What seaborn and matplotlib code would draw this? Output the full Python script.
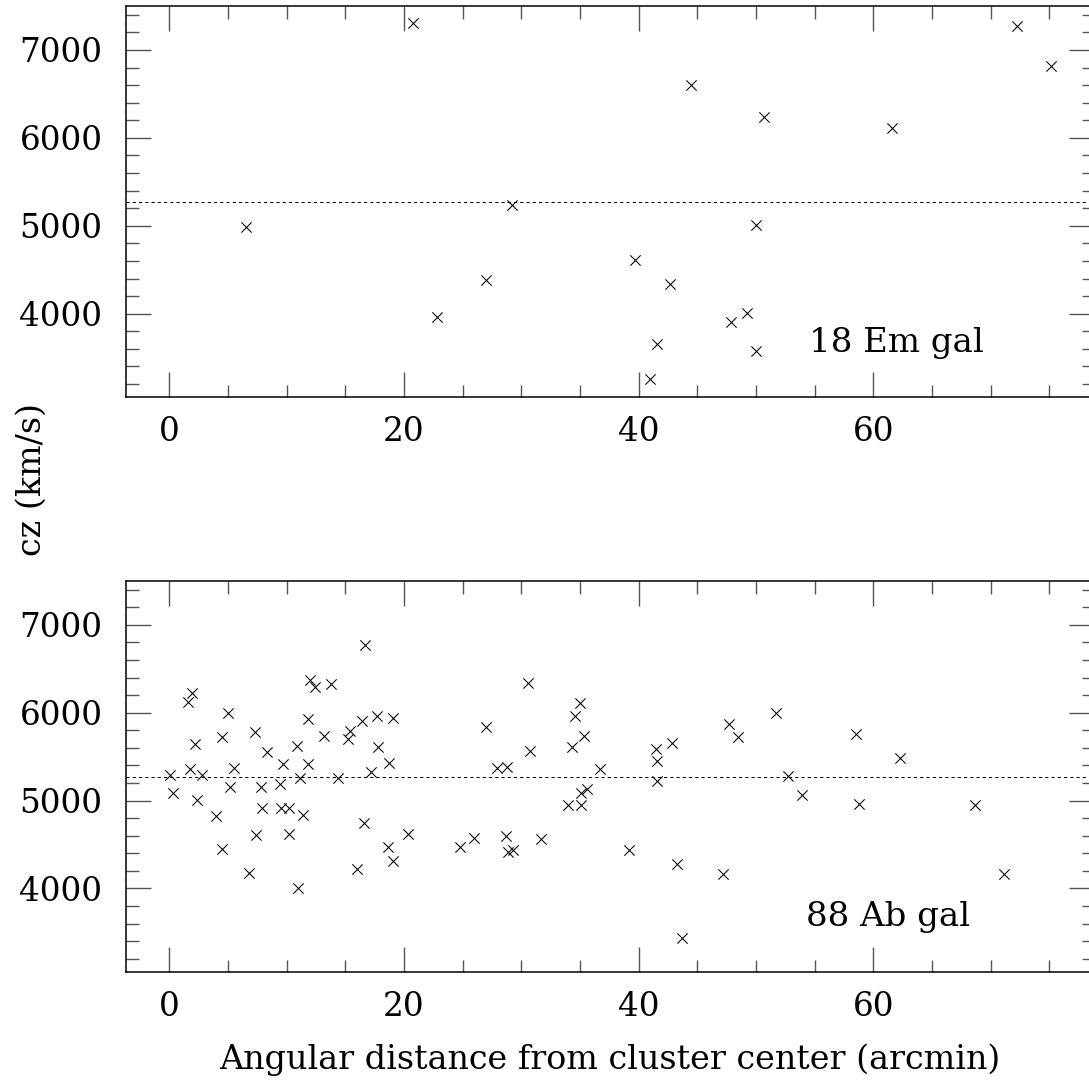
import numpy as np
import pandas as pd
import matplotlib
matplotlib.use("Agg")
import matplotlib.pyplot as plt
from matplotlib.ticker import MultipleLocator
import seaborn as sns

# ---- data ----
em_dist = [20.8, 6.5, 29.2, 27.0, 22.8, 72.2, 75.1, 44.5, 50.7, 61.6,
           50.0, 39.7, 42.7, 49.2, 47.9, 41.6, 50.0, 41.0]
em_cz = [7303, 4992, 5239, 4386, 3962, 7276, 6822, 6602, 6235, 6110,
         5011, 4614, 4337, 4008, 3901, 3656, 3572, 3258]

ab_dist = [0.1, 0.3, 1.6, 1.9, 1.8, 2.2, 2.4, 2.8, 4.0, 4.5,
           4.5, 5.0, 5.5, 5.2, 6.8, 7.3, 7.4, 7.8, 7.9, 8.3,
           9.4, 9.5, 9.7, 10.2, 10.2, 10.9, 11.1, 11.0, 11.4, 11.8,
           11.8, 12.0, 12.4, 13.2, 13.8, 14.4, 15.2, 15.4, 16.0, 16.4,
           16.6, 16.7, 17.2, 17.7, 17.8, 18.6, 18.7, 19.1, 19.1, 20.3,
           24.8, 26.0, 27.0, 27.9, 28.8, 28.7, 28.9, 29.3, 30.6, 30.7,
           31.7, 34.0, 34.3, 34.6, 35.0, 35.1, 35.1, 35.3, 35.6, 36.7,
           39.2, 41.5, 41.6, 41.6, 42.8, 43.3, 43.7, 47.2, 47.7, 48.5,
           51.7, 52.7, 53.9, 58.5, 58.8, 62.3, 68.7, 71.1]
ab_cz = [5289, 5088, 6128, 6230, 5358, 5644, 5006, 5289, 4824, 5720,
         4450, 5992, 5372, 5150, 4178, 5780, 4609, 5156, 4915, 5558,
         5187, 4915, 5422, 4915, 4617, 5621, 5259, 4011, 4836, 5924,
         5422, 6378, 6290, 5731, 6324, 5263, 5697, 5796, 4227, 5901,
         4748, 6766, 5323, 5969, 5610, 4476, 5433, 5943, 4314, 4617,
         4476, 4571, 5837, 5376, 5383, 4601, 4420, 4439, 6343, 5561,
         4567, 4946, 5610, 5961, 6109, 5088, 4946, 5735, 5134, 5361,
         4439, 5584, 5448, 5224, 5655, 4280, 3433, 4163, 5875, 5723,
         5995, 5278, 5062, 5754, 4957, 5485, 4949, 4163]

mean_cz = 5267
panel_labels = ["18 Em gal", "88 Ab gal"]
x_label = "Angular distance from cluster center (arcmin)"
y_label = "cz (km/s)"

sns.set_style("ticks")
plt.rcParams["font.family"] = ["DejaVu Serif"]
plt.rcParams["font.size"] = 23.5
plt.rcParams["text.color"] = "black"
plt.rcParams["xtick.labelcolor"] = "black"
plt.rcParams["ytick.labelcolor"] = "black"

fig = plt.figure(figsize=(10.89, 10.83), dpi=100)
W, H = 1089.0, 1083.0
left = 126 / W
width = (1094 - 126) / W
ax_top = fig.add_axes([left, 1 - 397 / H, width, (397 - 6) / H])
ax_bot = fig.add_axes([left, 1 - 971.7 / H, width, (971.7 - 581) / H])

panels = [(ax_top, em_dist, em_cz, panel_labels[0], 0.706, 0.115),
          (ax_bot, ab_dist, ab_cz, panel_labels[1], 0.702, 0.117)]

for ax, xs, ys, lab, tx, ty in panels:
    df = pd.DataFrame({"dist": xs, "cz": ys})
    sns.scatterplot(data=df, x="dist", y="cz", ax=ax, marker="x", color="black",
                    s=55, linewidth=0.75, legend=False, zorder=3)
    ax.axhline(mean_cz, color="black", linewidth=0.75, linestyle=(0, (3, 3)), zorder=2)
    ax.set_xlim(-3.69, 78.8)
    ax.set_ylim(3053, 7500)
    ax.xaxis.set_major_locator(MultipleLocator(20))
    ax.xaxis.set_minor_locator(MultipleLocator(5))
    ax.yaxis.set_major_locator(MultipleLocator(1000))
    ax.yaxis.set_minor_locator(MultipleLocator(200))
    ax.tick_params(which="both", direction="in", top=True, right=True,
                   color="#555555", width=1.0)
    ax.tick_params(which="major", length=18)
    ax.tick_params(which="minor", length=9)
    ax.tick_params(axis="x", which="major", pad=14, labelsize=23.5)
    ax.tick_params(axis="y", which="major", pad=17, labelsize=23.5)
    for sp in ax.spines.values():
        sp.set_linewidth(1.1)
        sp.set_color("black")
    ax.set_xlabel("")
    ax.set_ylabel("")
    ax.text(tx, ty, lab, transform=ax.transAxes, ha="left", va="baseline",
            fontsize=24.5, color="black")

fig.text(32 / W, 1 - 480 / H, y_label, rotation=90, ha="center", va="center",
         fontsize=24, color="black")
fig.text(609.5 / W, 1 - 1069 / H, x_label, ha="center", va="baseline",
         fontsize=24, color="black")

fig.savefig("out.png", dpi=100)
